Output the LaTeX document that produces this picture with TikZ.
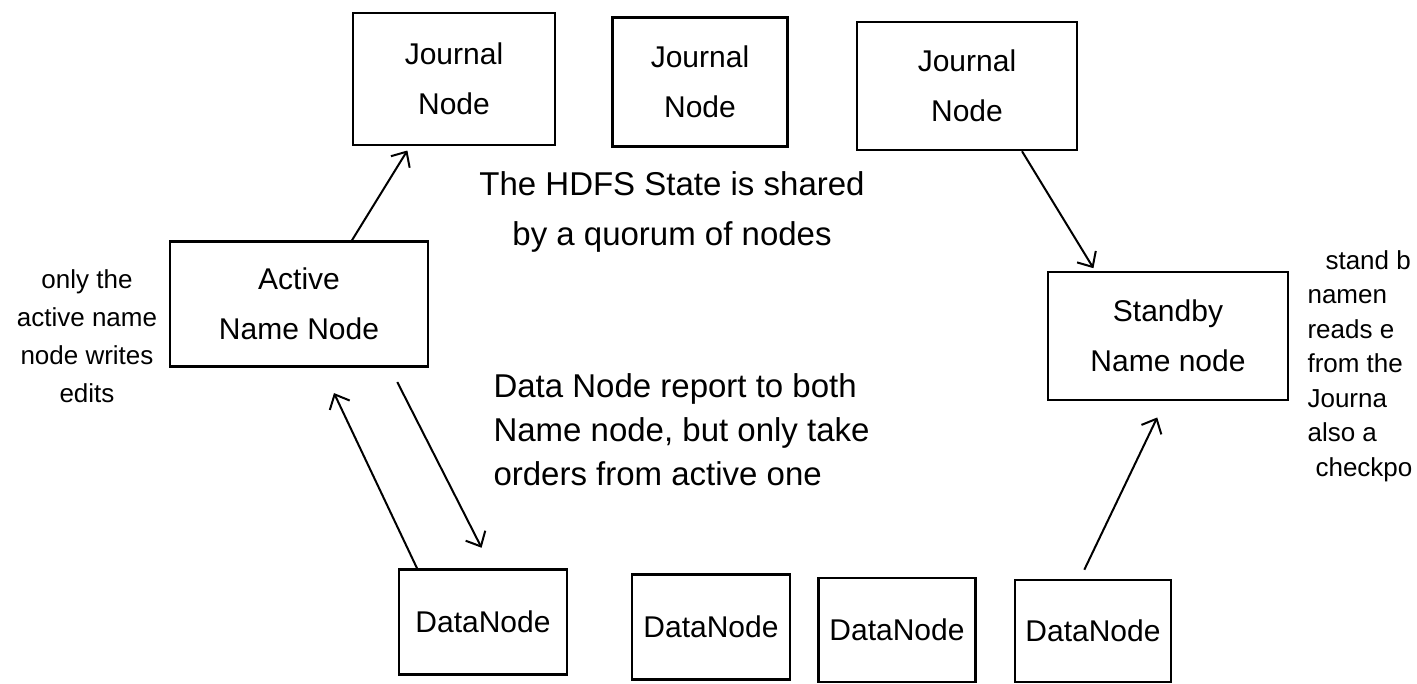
\documentclass[tikz,border=0pt]{standalone}
\usepackage{fontspec}
\setmainfont{Liberation Sans}
\usetikzlibrary{arrows.meta}

\begin{document}
\begin{tikzpicture}[x=1pt,y=-1pt,
  box/.style={shape=rectangle,draw=black,line width=2.5pt,align=center,
    font=\fontsize{30}{50}\selectfont},
  note/.style={font=\fontsize{33}{44}\selectfont},
  arr/.style={line width=2pt,-{Straight Barb[length=12pt,width=22pt]}}]
  \useasboundingbox (0,0) rectangle (1417,684);
  % journal nodes
  \node[box,minimum width=202pt,minimum height=132pt] (j1) at (454,79) {Journal\\Node};
  \node[box,minimum width=175pt,minimum height=129pt] (j2) at (700,82) {Journal\\Node};
  \node[box,minimum width=220pt,minimum height=128pt] (j3) at (967,86) {Journal\\Node};
  % name nodes
  \node[box,minimum width=258pt,minimum height=125pt] (an) at (299,304) {Active\\Name Node};
  \node[box,minimum width=240pt,minimum height=128pt] (sb) at (1168,336) {Standby\\Name node};
  % data nodes
  \node[box,minimum width=168pt,minimum height=105pt] (d1) at (483,622) {DataNode};
  \node[box,minimum width=158pt,minimum height=105pt] (d2) at (711,627) {DataNode};
  \node[box,minimum width=157pt,minimum height=104pt] (d3) at (897,630) {DataNode};
  \node[box,minimum width=156pt,minimum height=102pt] (d4) at (1093,631) {DataNode};
  % notes
  \node[note,align=center,font=\fontsize{33}{50}\selectfont] (quorum) at (672,212)
    {The HDFS State is shared\\by a quorum of nodes};
  \node[note,align=left,anchor=west] (report) at (490,430)
    {Data Node report to both\\Name node, but only take\\orders from active one};
  \node[note,align=center,font=\fontsize{26}{38}\selectfont] (writes) at (87,336)
    {only the\\active name\\node writes\\edits};
  \node[note,align=left,anchor=west,font=\fontsize{26}{34.5}\selectfont] (reads) at (1304,366)
    {\hspace{18pt}stand b\\namen\\reads e\\from the\\Journa\\also a\\\hspace{8pt}checkpo};
  % edits and reports
  \path [arr,shorten >=5pt] ([xshift=53pt]an.north) edge ([xshift=-44pt]j1.south);
  \path [arr,shorten >=3pt] ([xshift=55pt]j3.south) edge ([xshift=-73pt]sb.north);
  \path [arr,shorten <=16pt,shorten >=23pt] ([xshift=91pt]an.south) edge ([xshift=9pt]d1.north);
  \path [arr,shorten >=28pt] ([xshift=-66pt]d1.north) edge ([xshift=23pt]an.south);
  \path [arr,shorten <=10pt,shorten >=18pt] ([xshift=-13pt]d4.north) edge ([xshift=-3pt]sb.south);
\end{tikzpicture}
\end{document}
